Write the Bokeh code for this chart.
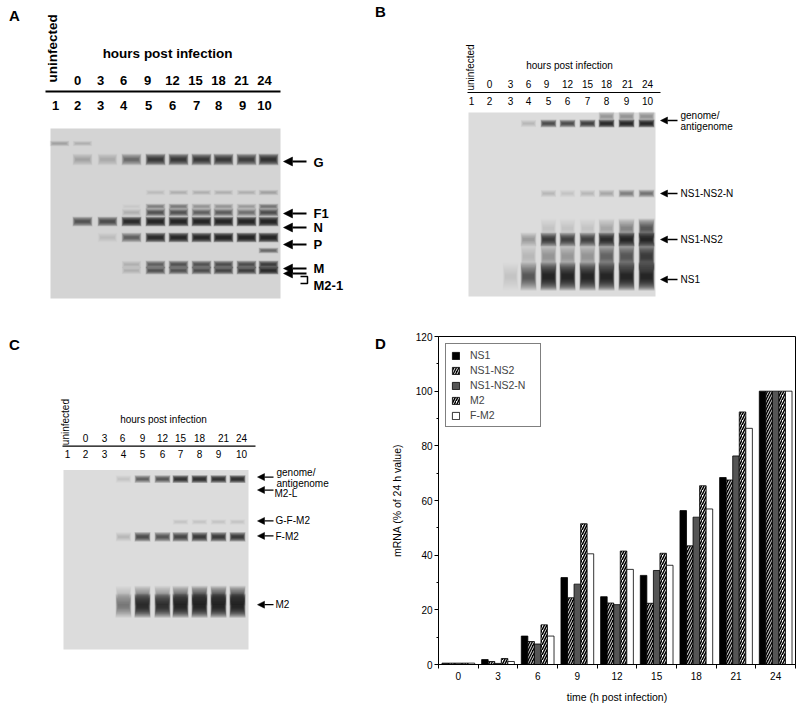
import numpy as np
from bokeh.plotting import figure
from bokeh.models import (Range1d, ColumnDataSource, FixedTicker, Legend,
                          LegendItem, Arrow, NormalHead)
from bokeh.layouts import column, row
from bokeh.embed import file_html
from bokeh.resources import INLINE
from bokeh.core.properties import value

FONT = "Liberation Sans"

# ---------------- Panel D data ----------------
hours = ["0", "3", "6", "9", "12", "15", "18", "21", "24"]
ns1 = [0.5, 1.8, 10.4, 31.8, 24.8, 32.6, 56.3, 68.4, 100]
ns1_ns2 = [0.5, 1.1, 8.4, 24.4, 22.5, 22.4, 43.4, 67.5, 100]
ns1_ns2_n = [0.5, 0.4, 7.5, 29.4, 21.9, 34.4, 53.9, 76.3, 100]
m2 = [0.5, 2.2, 14.5, 51.5, 41.5, 40.7, 65.4, 92.4, 100]
f_m2 = [0.5, 1.1, 10.4, 40.5, 34.8, 36.3, 56.9, 86.4, 100]
series_names = ["NS1", "NS1-NS2", "NS1-NS2-N", "M2", "F-M2"]

# ---------------- Gel labels ----------------
lane_numbers = ["1", "2", "3", "4", "5", "6", "7", "8", "9", "10"]
gel_hours = ["0", "3", "6", "9", "12", "15", "18", "21", "24"]

# Panel A band intensities (lanes 1..10)
a_top = [0.12, 0.08, 0, 0, 0, 0, 0, 0, 0, 0]
a_g = [0, 0.12, 0.1, 0.35, 0.7, 0.7, 0.7, 0.7, 0.65, 0.75]
a_faint = [0, 0, 0, 0, 0.04, 0.08, 0.08, 0.08, 0.06, 0.12]
a_f1_upper = [0, 0, 0, 0.03, 0.25, 0.28, 0.18, 0.18, 0.14, 0.3]
a_f1 = [0, 0, 0, 0.08, 0.45, 0.5, 0.4, 0.42, 0.32, 0.55]
a_n = [0, 0.5, 0.55, 0.9, 1.0, 1.0, 1.0, 1.0, 1.0, 1.0]
a_p = [0, 0, 0.05, 0.4, 0.9, 0.95, 0.95, 1.0, 1.0, 1.0]
a_extra = [0, 0, 0, 0, 0, 0, 0, 0, 0, 0.35]
a_m = [0, 0, 0, 0.06, 0.4, 0.45, 0.5, 0.55, 0.55, 0.65]
a_m21 = [0, 0, 0, 0.08, 0.45, 0.5, 0.55, 0.6, 0.65, 0.9]
a_labels = ["G", "F1", "N", "P", "M", "M2-1"]

# Panel B band intensities
b_genome_smear = [0, 0, 0, 0, 0, 0, 0, 0.15, 0.2, 0.2]
b_genome = [0, 0, 0, 0.08, 0.55, 0.55, 0.65, 0.9, 0.95, 0.95]
b_ns1ns2n = [0, 0, 0, 0, 0.06, 0.05, 0.08, 0.12, 0.28, 0.32]
b_ns1ns2_smear = [0, 0, 0, 0, 0.04, 0.04, 0.05, 0.12, 0.25, 0.45]
b_ns1ns2 = [0, 0, 0, 0.18, 0.7, 0.65, 0.65, 0.9, 1.0, 1.0]
b_ns1_smear = [0, 0, 0, 0.08, 0.2, 0.15, 0.2, 0.4, 0.5, 0.7]
b_ns1 = [0, 0, 0.04, 0.45, 1.0, 1.0, 1.0, 1.0, 1.0, 1.0]
b_labels = ["genome/\nantigenome", "NS1-NS2-N", "NS1-NS2", "NS1"]

# Panel C band intensities
c_genome = [0, 0, 0, 0.05, 0.4, 0.45, 0.75, 0.85, 0.75, 0.85]
c_gfm2 = [0, 0, 0, 0, 0, 0, 0.04, 0.05, 0.04, 0.04]
c_fm2 = [0, 0, 0, 0.08, 0.55, 0.5, 0.6, 0.7, 0.7, 0.7]
c_m2_smear = [0, 0, 0, 0.08, 0.25, 0.2, 0.35, 0.5, 0.45, 0.45]
c_m2 = [0, 0, 0, 0.3, 0.9, 0.85, 1.0, 1.0, 1.0, 1.0]
c_labels = ["genome/\nantigenome", "M2-L", "G-F-M2", "F-M2", "M2"]


# ---------------- helpers ----------------
def canvas(x0, x1, y0, y1, top=0, bottom=0):
    p = figure(width=int(x1 - x0), height=int(y1 - y0) + top + bottom,
               x_range=Range1d(x0, x1), y_range=Range1d(y1, y0),
               output_backend="svg", toolbar_location=None,
               x_axis_location=None, y_axis_location=None,
               min_border=0, min_border_left=0, min_border_right=0,
               min_border_top=top, min_border_bottom=bottom,
               outline_line_color=None, background_fill_color="white",
               border_fill_color="white")
    for g in p.grid:
        g.visible = False
    return p


def txt(p, xs, ys, texts, size, bold=False, align="center", angle=0.0):
    p.text(x=xs, y=ys, text=texts, text_font=value(FONT),
           text_font_size=size, text_font_style="bold" if bold else "normal",
           text_align=align, text_baseline="middle", text_color="black",
           angle=angle)


def gel(p, box, bg, lane_x, lane_w, bands):
    gx0, gx1, gy0, gy1 = box
    p.quad(left=[gx0], right=[gx1], top=[gy0], bottom=[gy1],
           fill_color=bg, line_color=None)
    xs, ys, ws, hs, al = [], [], [], [], []
    nl = 12
    for vals, y, h in bands:
        for x, v in zip(lane_x, vals):
            if v <= 0:
                continue
            for k in range(nl):
                t = k / (nl - 1)
                xs.append(x); ys.append(y)
                ws.append(lane_w * (1.0 - 0.3 * t))
                hs.append(h * (2.0 - 1.7 * t))
                al.append(min(1.0, v * 0.17))
    src = ColumnDataSource(dict(x=xs, y=ys, w=ws, h=hs, a=al))
    p.rect(x="x", y="y", width="w", height="h", fill_alpha="a",
           fill_color="#121212", line_color=None, source=src)


def arrows(p, ys, x_tip, x_tail, lw, size):
    for y in ys:
        p.add_layout(Arrow(end=NormalHead(size=size, fill_color="black",
                                          line_color="black", line_width=0.5),
                           x_start=x_tail, y_start=y, x_end=x_tip, y_end=y,
                           line_width=lw, line_color="black"))


# ---------------- Panel A ----------------
pA = canvas(0, 360, 0, 325)
txt(pA, [14], [15], ["A"], "15px", bold=True)
txt(pA, [52], [82], ["uninfected"], "13.5px", bold=True, align="left", angle=np.pi / 2)
txt(pA, [167], [53], ["hours post infection"], "13.5px", bold=True)
txt(pA, [77, 100, 123, 147, 172, 195, 218, 241, 264], [80] * 9, gel_hours, "13px", bold=True)
pA.line(x=[45, 280], y=[91, 91], line_color="black", line_width=2)
txt(pA, [55, 77, 100, 123, 148, 172, 196, 218, 242, 264], [105] * 10, lane_numbers, "13px", bold=True)
gel(pA, (50, 280, 128, 298), "#d4d4d4",
    [59, 82, 107, 131, 155, 178, 201, 223, 246, 268], 20,
    [(a_top, 143, 3), (a_g, 159, 6), (a_faint, 192, 3),
     (a_f1_upper, 206, 3), (a_f1, 212, 4), (a_n, 221, 5), (a_p, 237, 5),
     (a_extra, 250, 3), (a_m, 264, 4), (a_m21, 270, 4)])
arrows(pA, [161, 213, 227, 244, 268, 273], 283, 306, 2, 9)
txt(pA, [313] * 5, [162, 213, 227, 244, 268], a_labels[:5], "13px", bold=True, align="left")
txt(pA, [313], [285], [a_labels[5]], "13px", bold=True, align="left")
pA.line(x=[300, 307, 307, 300], y=[276, 276, 283, 283], line_color="black", line_width=1.5)

# ---------------- Panel B ----------------
pB = canvas(360, 800, 0, 325)
txt(pB, [380], [11], ["B"], "15px", bold=True)
txt(pB, [470], [90], ["uninfected"], "10px", align="left", angle=np.pi / 2)
txt(pB, [569], [65], ["hours post infection"], "10px")
txt(pB, [489, 510, 528, 546, 567, 587, 606, 627, 647], [83] * 9, gel_hours, "10px")
pB.line(x=[467, 660], y=[92, 92], line_color="black", line_width=1.2)
txt(pB, [471, 489, 510, 528, 548, 567, 587, 606, 626, 647], [100] * 10, lane_numbers, "10px")
gel(pB, (468, 655, 112, 296), "#dcdcdc",
    [471, 489, 510, 528, 548, 567, 587, 606, 626, 646], 16,
    [(b_genome_smear, 116, 5), (b_genome, 123, 4), (b_ns1ns2n, 193, 4),
     (b_ns1ns2_smear, 228, 10), (b_ns1ns2, 239, 7), (b_ns1_smear, 256, 14),
     (b_ns1, 276, 14)])
arrows(pB, [120, 193, 239, 279], 660, 677, 1.3, 7)
txt(pB, [680, 680], [115, 126], b_labels[0].split("\n"), "10px", align="left")
txt(pB, [680] * 3, [193, 239, 279], b_labels[1:], "10px", align="left")

# ---------------- Panel C (frame aligned with panel D's frame) ----------------
pC = canvas(0, 387, 336, 665, top=11, bottom=40)
txt(pC, [14], [344], ["C"], "15px", bold=True)
txt(pC, [380], [343], ["D"], "15px", bold=True)
txt(pC, [65], [445], ["uninfected"], "10px", align="left", angle=np.pi / 2)
txt(pC, [163], [419], ["hours post infection"], "10px")
txt(pC, [85, 104, 122, 142, 162, 180, 199, 223, 241], [438] * 9, gel_hours, "10px")
pC.line(x=[62, 255], y=[446, 446], line_color="black", line_width=1.2)
txt(pC, [67, 85, 104, 123, 142, 162, 180, 199, 218, 241], [454] * 10, lane_numbers, "10px")
gel(pC, (63, 248, 470, 650), "#dcdcdc",
    [67, 85, 104, 123, 142, 162, 180, 199, 218, 237], 16,
    [(c_genome, 479, 4), (c_gfm2, 522, 3), (c_fm2, 537, 5),
     (c_m2_smear, 596, 10), (c_m2, 606, 12)])
arrows(pC, [477, 490, 521, 536, 605], 257, 273, 1.3, 7)
txt(pC, [276, 276], [472, 483], c_labels[0].split("\n"), "10px", align="left")
txt(pC, [274, 275, 275, 275], [493, 521, 537, 605], c_labels[1:], "10px", align="left")

# ---------------- Panel D ----------------
pD = figure(width=413, height=380, x_range=Range1d(-0.5, len(hours) - 0.5),
            y_range=Range1d(0, 120), output_backend="svg", toolbar_location=None,
            min_border_left=45, min_border_right=5, min_border_top=11,
            min_border_bottom=40, background_fill_color="white",
            border_fill_color="white")
for g in pD.grid:
    g.visible = False
pD.outline_line_color = "black"
pD.outline_line_width = 1
pD.outline_line_alpha = 1

styles = [
    dict(fill_color="black"),
    dict(fill_color="black", hatch_pattern="/", hatch_color="white",
         hatch_scale=5, hatch_weight=0.9),
    dict(fill_color="#555555"),
    dict(fill_color="white", hatch_pattern="/", hatch_color="black",
         hatch_scale=5, hatch_weight=1.6),
    dict(fill_color="white"),
]
bar_w = 0.165
offsets = [-2 * bar_w, -bar_w, 0.0, bar_w, 2 * bar_w]
idx = np.arange(len(hours))
items = []
for name, vals, off, st in zip(series_names, [ns1, ns1_ns2, ns1_ns2_n, m2, f_m2], offsets, styles):
    r = pD.vbar(x=idx + off, top=vals, bottom=0, width=bar_w,
                line_color="black", line_width=0.8, **st)
    items.append(LegendItem(label=name, renderers=[r]))

legend = Legend(items=items, location="top_left", margin=7, padding=5,
                spacing=3, glyph_width=9, glyph_height=9, label_height=9,
                label_width=65, label_standoff=10, border_line_color="black",
                border_line_width=1, background_fill_alpha=1,
                label_text_font=FONT, label_text_font_size="10.5px")
pD.add_layout(legend)

xa = pD.xaxis[0]
xa.ticker = FixedTicker(ticks=list(range(len(hours))),
                        minor_ticks=[i - 0.5 for i in range(len(hours) + 1)])
xa.major_label_overrides = {i: h for i, h in enumerate(hours)}
xa.major_tick_out = 0
xa.major_tick_in = 0
xa.minor_tick_out = 4
xa.minor_tick_in = 0
xa.major_label_standoff = 3
xa.axis_label = "time (h post infection)"
xa.axis_label_standoff = 8

ya = pD.yaxis[0]
ya.ticker = FixedTicker(ticks=list(range(0, 121, 20)), minor_ticks=list(range(10, 120, 20)))
ya.major_tick_out = 4
ya.major_tick_in = 0
ya.minor_tick_out = 2
ya.minor_tick_in = 0
ya.major_label_standoff = 2
ya.axis_label = "mRNA (% of 24 h value)"
ya.axis_label_standoff = 10

for ax in (xa, ya):
    ax.axis_line_color = "black"
    ax.major_tick_line_color = "black"
    ax.minor_tick_line_color = "black"
    ax.major_label_text_font = FONT
    ax.major_label_text_font_size = "10px"
    ax.major_label_text_color = "black"
    ax.axis_label_text_font = FONT
    ax.axis_label_text_font_size = "10.5px"
    ax.axis_label_text_font_style = "normal"
    ax.axis_label_text_color = "black"

layout = column(row(pA, pB), row(pC, pD))
open("out.html", "w").write(file_html(layout, INLINE))
